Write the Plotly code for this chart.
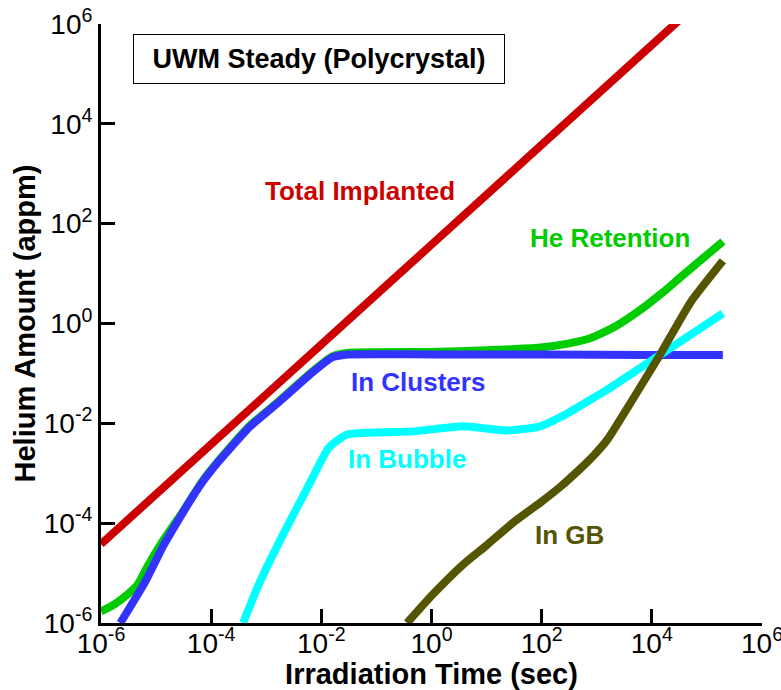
import math
import plotly.graph_objects as go

FONT = 'Liberation Sans, Arial, sans-serif'

# Total Implanted
total_x = [1e-6, 1e-4, 1e-2, 1, 100, 1e4, 1e5]
total_y = [3.8e-5, 3.8e-3, 0.38, 38, 3800, 3.8e5, 3.8e6]

# He Retention
ret_x = [1e-6, 1.78e-6, 3.1e-6, 4.7e-6, 7.1e-6, 1.29e-5, 3.1e-5, 7.1e-5, 1.66e-4,
         5.1e-4, 1.58e-3, 6.9e-3, 0.0158, 0.0316, 1, 10, 95, 316, 780, 2240, 6300,
         1.58e4, 3.5e4, 1.95e5]
ret_y = [1.7e-6, 2.4e-6, 3.8e-6, 6.0e-6, 1.4e-5, 4.2e-5, 1.74e-4, 7.2e-4, 2.3e-3,
         9.1e-3, 0.026, 0.11, 0.22, 0.26, 0.27, 0.29, 0.33, 0.40, 0.51, 0.89, 1.9,
         4.2, 8.9, 44]

# In Clusters
clus_x = [2.24e-6, 6.3e-6, 1.35e-5, 3.1e-5, 4.7e-5, 7.1e-5, 1.1e-4, 1.66e-4, 5.1e-4,
          1.58e-3, 6.9e-3, 0.0158, 0.0316, 1, 100, 1e4, 1.95e5]
clus_y = [1e-6, 6.6e-6, 3.5e-5, 1.66e-4, 3.5e-4, 6.9e-4, 1.29e-3, 2.2e-3, 8.7e-3,
          0.025, 0.105, 0.21, 0.24, 0.24, 0.24, 0.235, 0.235]

# In Bubble
bub_x = [3.8e-4, 7.1e-4, 1.95e-3, 5.8e-3, 0.0135, 0.0295, 0.47, 3.8, 24, 95,
         224, 1580, 1.29e4, 1.95e5]
bub_y = [1e-6, 5.5e-6, 5.5e-5, 5.5e-4, 3.2e-3, 6.0e-3, 6.9e-3, 8.7e-3, 7.2e-3,
         8.7e-3, 0.0135, 0.048, 0.22, 1.6]

# In GB
gb_x = [0.36, 1.0, 3.8, 10, 31, 95, 224, 513, 890, 1580, 2750, 4400, 1.45e4, 5.1e4, 1.95e5]
gb_y = [1e-6, 3.5e-6, 1.5e-5, 3.6e-5, 1.05e-4, 2.6e-4, 5.5e-4, 1.26e-3, 2.3e-3, 4.8e-3,
        0.0126, 0.029, 0.25, 2.7, 18]

tick_vals = [1e-6, 1e-4, 1e-2, 1, 1e2, 1e4, 1e6]
tick_text = ['10<sup>-6</sup>', '10<sup>-4</sup>', '10<sup>-2</sup>', '10<sup>0</sup>',
             '10<sup>2</sup>', '10<sup>4</sup>', '10<sup>6</sup>']

# label text, (x, y) in data units, colour
labels = [
    ('Total Implanted', 0.051, 450, '#cc0000'),
    ('He Retention', 1740, 52, '#00cc00'),
    ('In Clusters', 0.58, 0.068, '#3333ff'),
    ('In Bubble', 0.36, 0.0019, '#00ffff'),
    ('In GB', 324, 5.8e-5, '#555500'),
]

series = [
    (ret_x, ret_y, '#00cc00'),
    (clus_x, clus_y, '#3333ff'),
    (bub_x, bub_y, '#00ffff'),
    (gb_x, gb_y, '#555500'),
    (total_x, total_y, '#cc0000'),
]

fig = go.Figure()
for xs, ys, col in series:
    fig.add_trace(go.Scatter(
        x=xs, y=ys, mode='lines',
        line=dict(color=col, width=8, shape='spline', smoothing=0.5),
        hoverinfo='skip',
    ))

for text, lx, ly, col in labels:
    fig.add_annotation(
        x=math.log10(lx), y=math.log10(ly), xref='x', yref='y',
        text=f'<b>{text}</b>', showarrow=False,
        font=dict(family=FONT, size=26, color=col),
    )

# boxed title in the upper left corner
fig.add_annotation(
    x=0.33, y=0.941, xref='paper', yref='paper', xanchor='center', yanchor='middle',
    text='<b>UWM Steady (Polycrystal)</b>', showarrow=False,
    font=dict(family=FONT, size=27, color='black'),
    width=354, height=32,
    bordercolor='black', borderwidth=1, borderpad=8, bgcolor='white',
)

axis_common = dict(
    type='log', automargin=False,
    tickvals=tick_vals, ticktext=tick_text, ticklabeloverflow='allow',
    ticks='inside', ticklen=14, tickwidth=3, tickcolor='black',
    showline=True, linewidth=3, linecolor='black', mirror=False,
    showgrid=False, zeroline=False,
    tickfont=dict(family=FONT, size=28, color='black'),
)

fig.update_layout(
    width=781, height=690,
    paper_bgcolor='white', plot_bgcolor='white',
    margin=dict(l=101, r=19, t=24, b=67),
    showlegend=False,
    xaxis=dict(range=[-6, 6], ticklabelstandoff=-7,
               title=dict(text='<b>Irradiation Time (sec)</b>',
                          font=dict(family=FONT, size=29, color='black'), standoff=0),
               **axis_common),
    yaxis=dict(range=[-6, 6],
               title=dict(text='<b>Helium Amount (appm)</b>',
                          font=dict(family=FONT, size=29, color='black'), standoff=0),
               **axis_common),
)

# drop the browser's default 8px body margin so the figure sits at the page origin
fig.write_html('out.html', config={'displayModeBar': False},
               post_script="document.body.style.margin='0';")
